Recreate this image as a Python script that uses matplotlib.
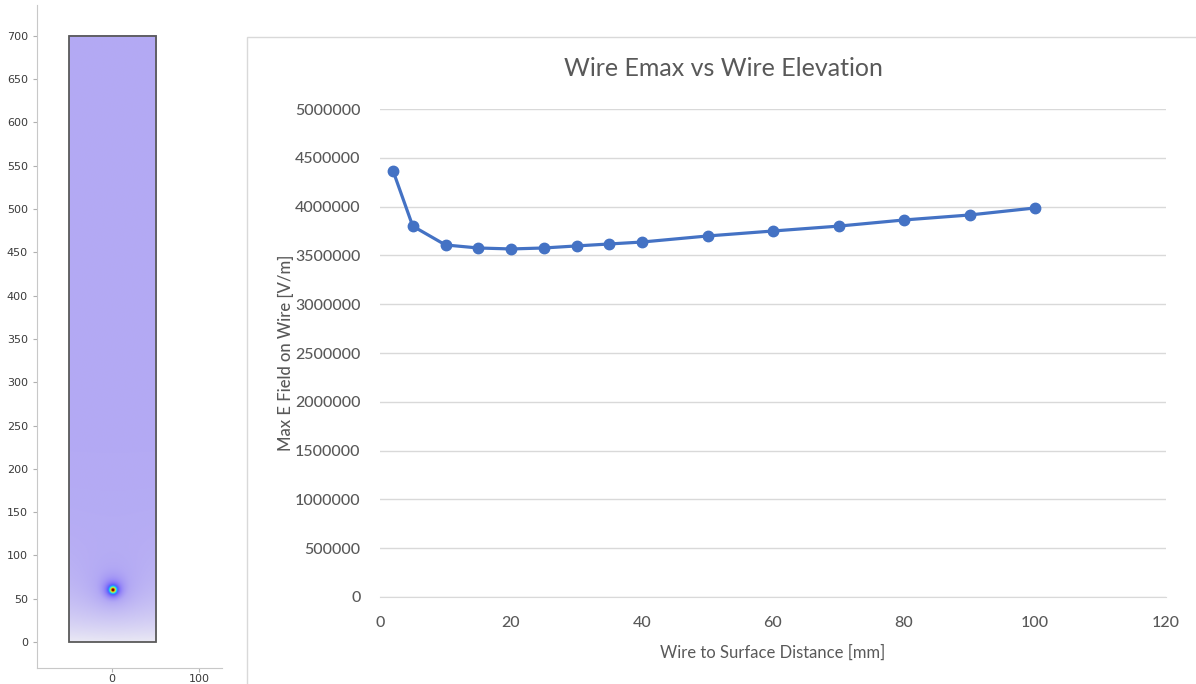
import numpy as np
import matplotlib
matplotlib.use("Agg")
import matplotlib.pyplot as plt
from matplotlib.colors import LinearSegmentedColormap
from matplotlib.patches import Rectangle

# chart data
distance_mm = [2, 5, 10, 15, 20, 25, 30, 35, 40, 50, 60, 70, 80, 90, 100]
emax_v_per_m = [4365000, 3800000, 3607000, 3576000, 3566000, 3576000, 3597000, 3617000,
                3637000, 3699000, 3750000, 3800000, 3863000, 3914000, 3986000]
y_ticks = [0, 500000, 1000000, 1500000, 2000000, 2500000, 3000000, 3500000,
           4000000, 4500000, 5000000]
x_ticks = [0, 20, 40, 60, 80, 100, 120]

# geometry of the field plot
domain_x = (-50, 50)
domain_y = (0, 700)
wire_pos = (0, 60)
field_x_ticks = [0, 100]
field_y_ticks = list(range(0, 701, 50))

W, H = 1196, 684
fig = plt.figure(figsize=(W / 100, H / 100), dpi=100)

# ---------- left: field map ----------
axf = fig.add_axes([37 / W, 1 - 668 / H, 185 / W, 663 / H])
xs = np.linspace(domain_x[0], domain_x[1], 300)
ys = np.linspace(domain_y[0], domain_y[1], 2100)
X, Y = np.meshgrid(xs, ys)
r = np.hypot(X - wire_pos[0], Y - wire_pos[1])
bg = 0.30 * (1 - np.exp(-Y / 50.0))
halo = 0.72 / (1 + (r / 4.0) ** 2) + 0.12 * np.exp(-r / 25.0)
val = np.clip(bg + halo, 0, 1)

cmap = LinearSegmentedColormap.from_list("field", [
    (0.00, "#ecebf4"), (0.30, "#b3a9f4"), (0.42, "#8c7cf8"), (0.55, "#4f5cff"),
    (0.66, "#00d8ff"), (0.76, "#9bff66"), (0.86, "#ffd400"), (0.94, "#d02000"),
    (1.00, "#700000")])
axf.imshow(val, cmap=cmap, vmin=0, vmax=1, origin="lower", interpolation="bilinear",
           extent=[domain_x[0], domain_x[1], domain_y[0], domain_y[1]], aspect="auto")
axf.add_patch(Rectangle((domain_x[0], domain_y[0]), domain_x[1] - domain_x[0],
                        domain_y[1] - domain_y[0], fill=False, ec="#5a5a5a", lw=1.3))
px_per_unit = 87 / 100
axf.set_xlim((37 - 112) / px_per_unit, (222 - 112) / px_per_unit)
axf.set_ylim(-(668 - 642) / 0.866, (642 - 5) / 0.866)
axf.set_xticks(field_x_ticks)
axf.set_yticks(field_y_ticks)
for s in ["top", "right"]:
    axf.spines[s].set_visible(False)
for s in ["left", "bottom"]:
    axf.spines[s].set_color("#c8c8c8")
axf.tick_params(colors="#b0b0b0", labelcolor="#3a3a3a", labelsize=8, length=3)
axf.tick_params(axis="x", pad=1.5)

# ---------- right: Excel style chart ----------
fig.patches.append(Rectangle((247 / W, -0.05), 1.0, 1 - 37 / H + 0.05, transform=fig.transFigure,
                             fill=False, ec="#d9d9d9", lw=1.0))
font = "Lato"
ax = fig.add_axes([380 / W, 1 - 597 / H, 786 / W, 488 / H])
ax.plot(distance_mm, emax_v_per_m, color="#4472C4", lw=2.3, marker="o", ms=7.5,
        markerfacecolor="#4472C4", markeredgecolor="#4472C4")
ax.set_xlim(0, 120)
ax.set_ylim(0, 5000000)
ax.set_xticks(x_ticks)
ax.set_yticks(y_ticks)
ax.set_yticklabels([str(v) for v in y_ticks], fontfamily=font, fontsize=11.5, color="#595959",
                   fontweight="medium")
ax.set_xticklabels([str(v) for v in x_ticks], fontfamily=font, fontsize=11.5, color="#595959",
                   fontweight="medium")
ax.grid(axis="y", color="#d9d9d9", lw=1.0)
ax.set_axisbelow(True)
for s in ["top", "right", "left"]:
    ax.spines[s].set_visible(False)
ax.spines["bottom"].set_color("#d9d9d9")
ax.tick_params(length=0, pad=14)
ax.tick_params(axis="y", pad=14)
ax.set_xlabel("Wire to Surface Distance [mm]", fontfamily=font, fontsize=12, color="#595959",
              labelpad=10)
ax.set_ylabel("Max E Field on Wire [V/m]", fontfamily=font, fontsize=12, color="#595959",
              labelpad=1, fontweight="medium")
fig.text(723 / W, 1 - 68 / H, "Wire Emax vs Wire Elevation", fontfamily=font, fontsize=18,
         color="#595959", ha="center", va="center")

fig.savefig("out.png", dpi=100)
